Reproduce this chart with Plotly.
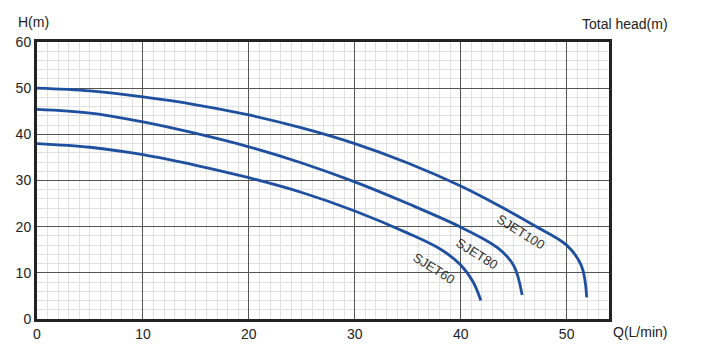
import plotly.graph_objects as go

q100 = [0, 5, 10, 15, 20, 25, 30, 35, 40, 43.8, 46.9, 50, 51.4, 51.9]
h100 = [50, 49.4, 48.1, 46.4, 44.2, 41.4, 38, 33.8, 28.8, 24.3, 20.3, 16, 11.5, 4.7]
q80 = [0, 5, 10, 15, 20, 25, 30, 35, 40, 43.5, 45, 45.8]
h80 = [45.4, 44.6, 42.7, 40.2, 37.3, 33.8, 29.7, 25.0, 19.9, 15.4, 11.6, 5.2]
q60 = [0, 5, 10, 15, 20, 25, 30, 35, 38.1, 40, 41.2, 41.9]
h60 = [38, 37.2, 35.6, 33.3, 30.6, 27.4, 23.4, 18.6, 15.1, 11.7, 7.9, 4.0]
names = ["SJET100", "SJET80", "SJET60"]
label_pos = [(45.6, 18.9), (41.5, 14.2), (37.5, 11.0)]
x_ticks = [0, 10, 20, 30, 40, 50]
y_ticks = [0, 10, 20, 30, 40, 50, 60]

blue = "#1f4f9f"
fig = go.Figure()
for q, h, n in [(q100, h100, names[0]), (q80, h80, names[1]), (q60, h60, names[2])]:
    fig.add_trace(go.Scatter(x=q, y=h, mode="lines", name=n,
                             line=dict(color=blue, width=2.8, shape="spline", smoothing=1.0)))

font = dict(family="Liberation Sans, Arial", size=14, color="#222")
for n, (x, y) in zip(names, label_pos):
    fig.add_annotation(x=x, y=y, text=n, showarrow=False, textangle=32,
                       font=dict(family="Liberation Sans, Arial", size=13, color="#333"))

fig.add_annotation(x=0, y=1, xref="paper", yref="paper", text="H(m)", showarrow=False,
                   xanchor="center", yanchor="bottom", yshift=10, xshift=-4, font=font)
fig.add_annotation(x=(670 - 37) / (609 - 37), y=1, xref="paper", yref="paper", text="Total head(m)",
                   showarrow=False, xanchor="right", yanchor="bottom", yshift=8, font=font)
fig.add_annotation(x=1, y=0, xref="paper", yref="paper", text="Q(L/min)", showarrow=False,
                   xanchor="left", yanchor="top", xshift=2, yshift=-3, font=font)

fig.update_layout(
    width=706, height=354,
    margin=dict(l=37, r=97, t=42, b=35),
    paper_bgcolor="white", plot_bgcolor="white",
    showlegend=False,
    font=font,
)
fig.update_xaxes(range=[0, 54], tickvals=x_ticks, showgrid=True, gridcolor="#555", gridwidth=1,
                 minor=dict(dtick=1, showgrid=True, gridcolor="#e0e0e0", gridwidth=1),
                 showline=True, linecolor="#222", linewidth=3, mirror=True,
                 ticks="", zeroline=False, tickfont=font)
fig.update_yaxes(range=[0, 60], tickvals=y_ticks, showgrid=True, gridcolor="#555", gridwidth=1,
                 minor=dict(dtick=2, showgrid=True, gridcolor="#e0e0e0", gridwidth=1),
                 showline=True, linecolor="#222", linewidth=3, mirror=True,
                 ticks="", zeroline=False, tickfont=font)

fig.write_html("out.html")
